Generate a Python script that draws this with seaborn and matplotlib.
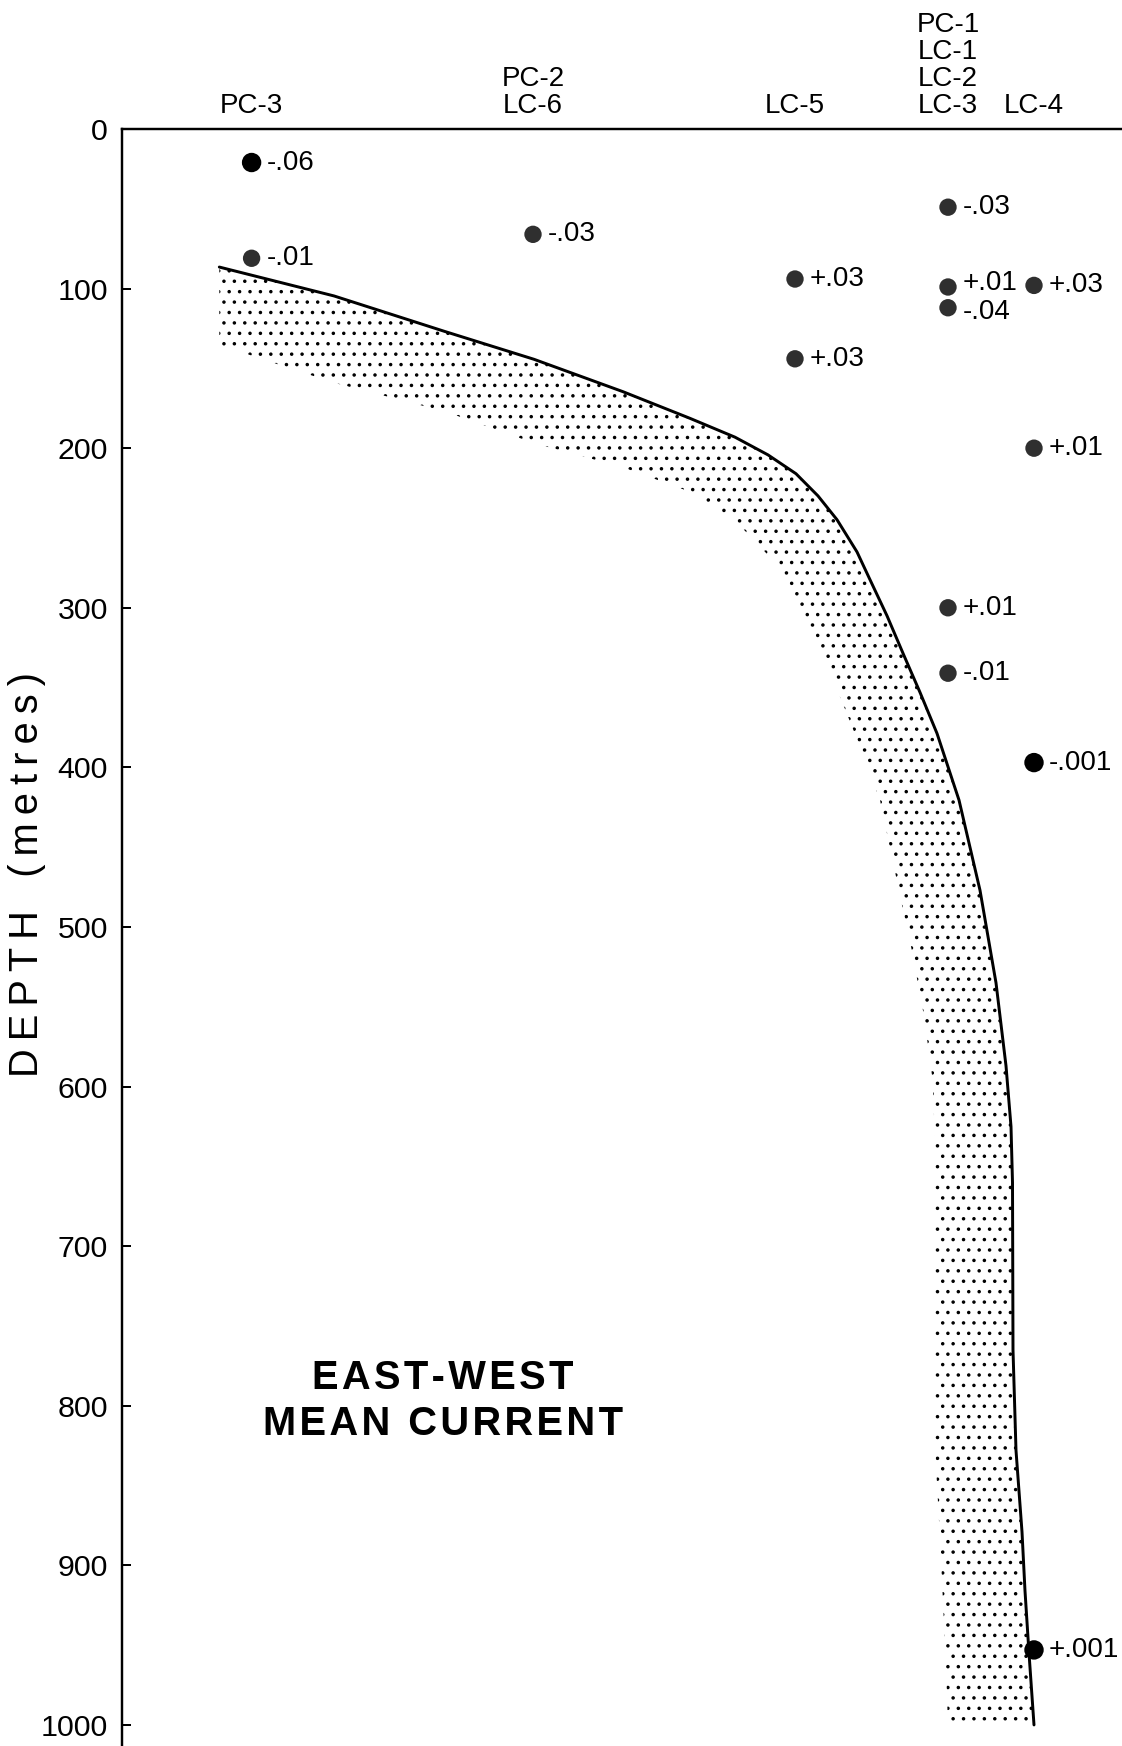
import numpy as np
import pandas as pd
import matplotlib
matplotlib.use("Agg")
import matplotlib.pyplot as plt
import seaborn as sns

# Mooring stations along the section (x position in section units)
stations = ["PC-3", "PC-2\nLC-6", "LC-5", "PC-1\nLC-1\nLC-2\nLC-3", "LC-4"]
station_pos = [12.96, 41.1, 67.3, 82.6, 91.2]

# Current meters: station index, depth (m), mean east-west current label
meter_station = [0, 0, 1, 2, 2, 3, 3, 3, 3, 3, 4, 4, 4, 4]
meter_depth = [21, 81, 66, 94, 144, 49, 99, 112, 300, 341, 98, 200, 397, 953]
meter_label = ["-.06", "-.01", "-.03", "+.03", "+.03", "-.03", "+.01", "-.04",
               "+.01", "-.01", "+.03", "+.01", "-.001", "+.001"]
meter_dark = [1, 0, 0, 0, 0, 0, 0, 0, 0, 0, 0, 0, 1, 1]

# Zero-current line (x position, depth)
zero_x = [9.73, 21.2, 32.3, 41.2, 50.1, 56.8, 61.3, 64.6, 67.4, 69.6, 71.5, 73.5,
          74.8, 76.5, 78.1, 79.8, 81.5, 83.7, 85.8, 87.4, 88.4, 88.9, 89.05,
          89.1, 89.4, 90.0, 90.3, 90.7, 91.2]
zero_depth = [86.5, 104.6, 126.9, 144.3, 164.6, 181.3, 193.1, 204.2, 216.0, 229.9,
              244.8, 265.0, 282.4, 305.0, 328.5, 353.0, 378.7, 420.5, 477, 535,
              587, 625, 660, 765, 828, 879, 916, 955, 1000]

# Lower edge of the shaded (westward) band
band_x = [9.73, 9.73, 21.2, 32.3, 41.2, 50.1, 56.8, 61.3, 63.5, 66.2, 67.8, 69.8,
          71.8, 73.8, 75.8, 77.9, 78.96, 80.2, 81.1, 81.3, 81.3, 81.9, 82.4, 82.6]
band_depth = [86.5, 135.3, 159, 177, 196.8, 212, 227.3, 245.5, 259.4, 278.2, 299.2,
              324.3, 355.6, 387, 420.5, 483.3, 514, 555.8, 597.6, 639.5, 825.7,
              895.4, 965, 1000]

DPI = 125
sns.set_style("ticks")
plt.rcParams["font.family"] = ["Liberation Sans", "DejaVu Sans"]
plt.rcParams["hatch.linewidth"] = 0.8
for key in ("text.color", "axes.labelcolor", "xtick.color", "ytick.color",
            "axes.edgecolor"):
    plt.rcParams[key] = "black"

fig = plt.figure(figsize=(1122 / DPI, 1746 / DPI), dpi=DPI)
ax = fig.add_axes([122 / 1122, 0, 1000 / 1122, 1617 / 1746])

# stippled band between the zero line and its lower edge
poly_x = zero_x + band_x[::-1]
poly_d = zero_depth + band_depth[::-1]
ax.fill(poly_x, poly_d, facecolor="none", edgecolor="black", hatch="..", linewidth=0)

sns.lineplot(x=zero_x, y=zero_depth, sort=False, estimator=None, color="black",
             linewidth=1.7, ax=ax)

meters = pd.DataFrame({
    "x": [station_pos[i] for i in meter_station],
    "depth": meter_depth,
    "dark": meter_dark,
})
sns.scatterplot(data=meters, x="x", y="depth", hue="dark", size="dark",
                palette={0: "#2f2f2f", 1: "#000000"}, sizes={0: 100, 1: 125},
                edgecolor="none", legend=False, ax=ax, zorder=5)

# the two closely stacked meters at PC-1 get their labels eased apart a little
nudge = {6: 2.5, 7: -2.5}
for i, (x, d, lab) in enumerate(zip(meters["x"], meters["depth"], meter_label)):
    ax.annotate(lab, (x, d), xytext=(8.5, nudge.get(i, 0)),
                textcoords="offset points", ha="left", va="center",
                fontsize=16, annotation_clip=False)

ax.set_xlim(0, 100)
ax.set_ylim(1013.2, 0)
ax.set_yticks(np.arange(0, 1001, 100))
ax.xaxis.tick_top()
ax.set_xticks(station_pos)
ax.set_xticklabels(stations, linespacing=1.05)
ax.tick_params(axis="x", direction="in", length=6.3, width=1.15, pad=6,
               labelsize=16, top=True, bottom=False)
ax.tick_params(axis="y", direction="in", length=5.2, width=1.15, pad=8,
               labelsize=17.5, left=True, right=False)
ax.set_xlabel("")
ax.set_ylabel("")

sns.despine(ax=ax, top=False, right=True, bottom=True, left=False)
for side in ("top", "left"):
    ax.spines[side].set_linewidth(1.4)

# letter-spaced caption and axis title
title_gap = "\u200a"
title = "\n".join(title_gap.join(line) for line in ["EAST-WEST", "MEAN CURRENT"])
ax.text(32.1, 797, title, ha="center", va="center",
        fontsize=23, fontweight="bold", linespacing=1.28)

label_gap = "\u2009"
ylab = label_gap.join("DEPTH") + "   " + label_gap.join("(metres)")
fig.text(0.0245, 0.499, ylab, rotation=90, ha="center", va="center",
         fontsize=23)

fig.savefig("out.png", dpi=DPI)
